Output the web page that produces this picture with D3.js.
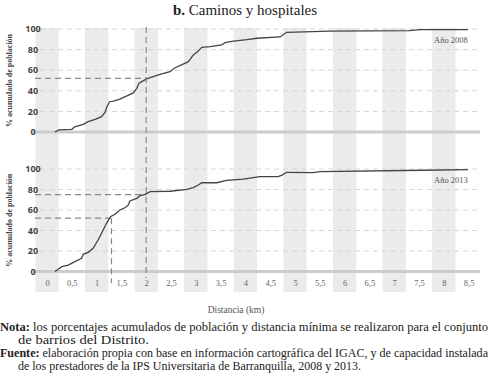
<!DOCTYPE html>
<html>
<head>
<meta charset="utf-8">
<script src="https://cdn.jsdelivr.net/npm/d3@7"></script>
<style>
  body { margin: 0; background: #fff; }
  svg { display: block; }
</style>
</head>
<body>
<div id="graph"></div>
<script>
// distancia (km) y % acumulado de poblacion
var km2008 = [0.16, 0.24, 0.50, 0.56, 0.73, 0.83, 0.97, 1.10, 1.17, 1.20, 1.26, 1.34, 1.47, 1.61, 1.74, 1.81, 1.85, 1.91, 2.01, 2.14, 2.28, 2.48, 2.58, 2.68, 2.85, 2.95, 3.05, 3.12, 3.29, 3.52, 3.59, 3.76, 4.03, 4.23, 4.70, 4.83, 5.71, 7.30, 7.52, 8.49];
var pob2008 = [0, 2, 2.6, 5, 7.5, 10, 12.3, 14.9, 19, 23.6, 29.4, 30, 32, 35, 38, 42.4, 47.2, 48.9, 51.5, 53.7, 56, 58.6, 62.4, 64.4, 68.3, 74.8, 78.6, 82.2, 82.9, 84.5, 86.7, 88.3, 89.6, 91, 92.3, 96.8, 98, 98.4, 99.3, 99.4];

var km2013 = [0.16, 0.30, 0.43, 0.56, 0.70, 0.73, 0.83, 0.93, 1.03, 1.10, 1.20, 1.28, 1.37, 1.47, 1.57, 1.64, 1.67, 1.81, 1.88, 1.98, 2.08, 2.48, 2.82, 2.95, 3.05, 3.12, 3.42, 3.62, 3.96, 4.29, 4.66, 4.74, 4.83, 5.36, 5.50, 7.59, 8.49];
var pob2013 = [0, 4.7, 6.3, 9.6, 12.9, 16.8, 18.7, 22.6, 30.7, 37.3, 47, 53.5, 55.8, 60, 62.2, 64.9, 68.8, 71.4, 74, 75.3, 77.9, 78.3, 80.2, 81.8, 84.4, 86.6, 86.6, 89, 90.2, 92.5, 92.5, 94, 96.8, 96.5, 97.4, 98.8, 99.3];

var xTicks = [0, 0.5, 1, 1.5, 2, 2.5, 3, 3.5, 4, 4.5, 5, 5.5, 6, 6.5, 7, 7.5, 8, 8.5];
var xLabels = ["0", "0,5", "1", "1,5", "2", "2,5", "3", "3,5", "4", "4,5", "5", "5,5", "6", "6,5", "7", "7,5", "8", "8,5"];
var yTicks = [0, 20, 40, 60, 80, 100];
var bandValues = [0, 1, 2, 3, 4, 5, 6, 7, 8];

// lineas de referencia [km, %]
var ref2008 = [[2, 52]];
var ref2013 = [[2, 75], [1.3, 52]];

var width = 490, height = 380;
var serif = "'Liberation Serif', 'DejaVu Serif', serif";
var sans = "'Open Sans', 'DejaVu Sans', sans-serif";

var svg = d3.select("#graph")
    .append("svg")
    .attr("width", width)
    .attr("height", height);

var x = d3.scaleLinear().domain([0, 8.5]).range([47, 468.6]);
var y1 = d3.scaleLinear().domain([0, 100]).range([132, 29]);
var y2 = d3.scaleLinear().domain([0, 100]).range([271.5, 169]);

// gray columns
svg.selectAll("rect.band")
    .data(bandValues)
    .enter().append("rect")
    .attr("class", "band")
    .attr("x", function(d) { return x(d - 0.235); })
    .attr("width", x(0.47) - x(0))
    .attr("y", 28)
    .attr("height", 264)
    .style("fill", "#ebebeb");

// title
var title = svg.append("text")
    .attr("x", 245)
    .attr("y", 15)
    .style("text-anchor", "middle")
    .style("font-family", serif)
    .style("font-size", "15px")
    .style("fill", "#222");
title.append("tspan").style("font-weight", "bold").text("b.");
title.append("tspan").text(" Caminos y hospitales");

function panel(y, km, pob, refs, label) {
    // grid
    svg.append("g").selectAll("line")
        .data(yTicks.slice(1))
        .enter().append("line")
        .attr("x1", 40).attr("x2", 478)
        .attr("y1", function(d) { return y(d); })
        .attr("y2", function(d) { return y(d); })
        .style("stroke", "#d6d6d6")
        .style("stroke-width", 1)
        .style("stroke-dasharray", "5,4");

    // base line at 0
    svg.append("line")
        .attr("x1", 33).attr("x2", 480)
        .attr("y1", y(0)).attr("y2", y(0))
        .style("stroke", "#cccccc")
        .style("stroke-width", 3);

    // y tick labels
    svg.append("g").selectAll("text")
        .data(yTicks)
        .enter().append("text")
        .attr("x", 33)
        .attr("y", function(d) { return y(d); })
        .attr("dy", "0.35em")
        .style("text-anchor", "middle")
        .style("font-family", sans)
        .style("font-weight", "bold")
        .style("font-size", "9px")
        .style("fill", "#444")
        .text(function(d) { return d; });

    // y axis label
    svg.append("text")
        .attr("transform", "translate(12," + y(50) + ") rotate(-90)")
        .style("text-anchor", "middle")
        .style("font-family", serif)
        .style("font-weight", "bold")
        .style("font-size", "8px")
        .style("fill", "#444")
        .text("% acumulado de población");

    // reference lines
    refs.forEach(function(r) {
        svg.append("line")
            .attr("x1", 35).attr("x2", x(r[0]))
            .attr("y1", y(r[1])).attr("y2", y(r[1]))
            .style("stroke", "#888")
            .style("stroke-width", 1.2)
            .style("stroke-dasharray", "6,4");
    });

    // curve
    var pts = km.map(function(d, i) { return [d, pob[i]]; });
    svg.append("path")
        .datum(pts)
        .attr("d", d3.line()
            .x(function(d) { return x(d[0]); })
            .y(function(d) { return y(d[1]); }))
        .style("fill", "none")
        .style("stroke", "#444")
        .style("stroke-width", 1.3);

    svg.append("text")
        .attr("x", 451)
        .attr("y", y(100) + 14)
        .style("text-anchor", "middle")
        .style("font-family", serif)
        .style("font-size", "8.5px")
        .style("fill", "#555")
        .text(label);
}

panel(y1, km2008, pob2008, ref2008, "Año 2008");
panel(y2, km2013, pob2013, ref2013, "Año 2013");

// vertical reference lines
svg.append("line")
    .attr("x1", x(2)).attr("x2", x(2))
    .attr("y1", 27).attr("y2", 278)
    .style("stroke", "#888")
    .style("stroke-width", 1.2)
    .style("stroke-dasharray", "6,4");
svg.append("line")
    .attr("x1", x(1.3)).attr("x2", x(1.3))
    .attr("y1", y2(52)).attr("y2", 283)
    .style("stroke", "#888")
    .style("stroke-width", 1.2)
    .style("stroke-dasharray", "6,4");

// x axis
var xAxis = svg.append("g")
    .attr("transform", "translate(0,280)")
    .call(d3.axisBottom(x)
        .tickValues(xTicks)
        .tickSize(0)
        .tickPadding(0)
        .tickFormat(function(d, i) { return xLabels[i]; }));
xAxis.select(".domain").remove();
xAxis.selectAll("text")
    .attr("dy", "0.71em")
    .style("font-family", serif)
    .style("font-size", "8.5px")
    .style("fill", "#666");

svg.append("text")
    .attr("x", 236)
    .attr("y", 313)
    .style("text-anchor", "middle")
    .style("font-family", serif)
    .style("font-size", "9.5px")
    .style("fill", "#555")
    .text("Distancia (km)");

// notes
var notes = [
    { x: 0, y: 331, w: 488, b: "Nota:", t: " los porcentajes acumulados de población y distancia mínima se realizaron para el conjunto" },
    { x: 18, y: 344, w: 131, b: "", t: "de barrios del Distrito." },
    { x: 0, y: 357, w: 488, b: "Fuente:", t: " elaboración propia con base en información cartográfica del IGAC, y de capacidad instalada" },
    { x: 18, y: 370, w: 343, b: "", t: "de los prestadores de la IPS Universitaria de Barranquilla, 2008 y 2013." }
];
notes.forEach(function(n) {
    var t = svg.append("text")
        .attr("x", n.x)
        .attr("y", n.y)
        .attr("textLength", n.w)
        .attr("lengthAdjust", "spacingAndGlyphs")
        .style("font-family", serif)
        .style("font-size", "12px")
        .style("fill", "#222");
    if (n.b) t.append("tspan").style("font-weight", "bold").text(n.b);
    t.append("tspan").text(n.t);
});
</script>
</body>
</html>
